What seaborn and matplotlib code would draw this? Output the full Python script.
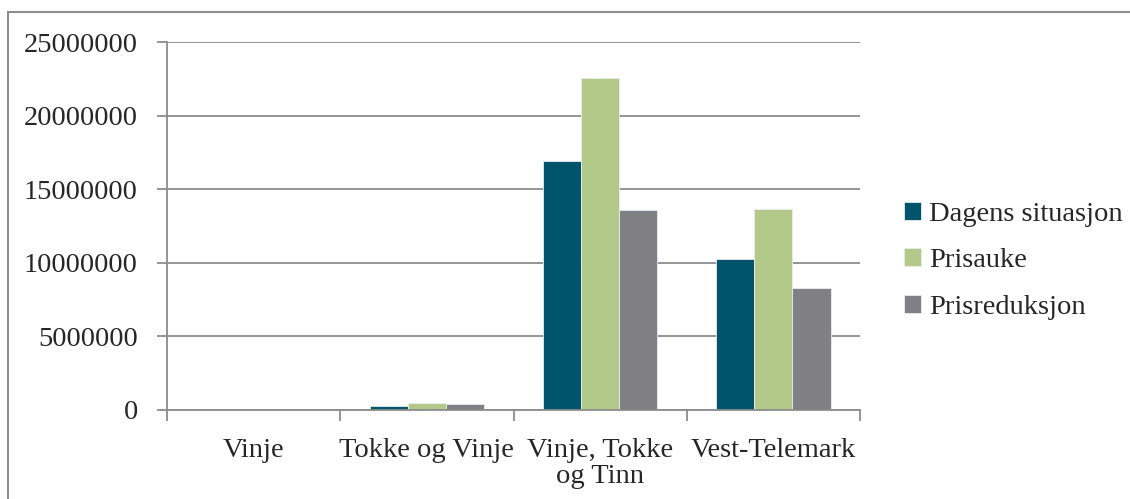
import pandas as pd
import seaborn as sns
import matplotlib.pyplot as plt
from matplotlib.patches import Rectangle

# values
kommuner = ['Vinje', 'Tokke og Vinje', 'Vinje, Tokke\nog Tinn', 'Vest-Telemark']
dagens = [0, 300000, 16900000, 10260000]
prisauke = [0, 450000, 22550000, 13650000]
prisreduksjon = [0, 380000, 13600000, 8290000]
serier = ['Dagens situasjon', 'Prisauke', 'Prisreduksjon']

df = pd.DataFrame({'Kommune': kommuner * 3,
                   'Serie': [s for s in serier for _ in kommuner],
                   'Verdi': dagens + prisauke + prisreduksjon})

sns.set_theme(style='white')
plt.rcParams['font.family'] = ['Liberation Serif', 'DejaVu Serif']
grey = '#8c8c8c'

fig = plt.figure(figsize=(11.3, 4.99), dpi=100)
ax = fig.add_axes([0.1478, 0.1784, 0.6133, 0.7374])
my_pal = {'Dagens situasjon': '#00546b', 'Prisauke': '#b3c98a', 'Prisreduksjon': '#807f84'}
sns.barplot(data=df, x='Kommune', y='Verdi', hue='Serie', palette=my_pal,
            width=0.66, ax=ax, edgecolor='#e8eef0', linewidth=0.6, saturation=1)

ax.set_ylim(0, 25000000)
ax.set_xlim(-0.5, 3.5)
ax.set_yticks(range(0, 25000001, 5000000))
ax.set_yticklabels([str(v) for v in range(0, 25000001, 5000000)], fontsize=20.5)
ax.yaxis.grid(True, color=grey, linewidth=1.3)
ax.set_axisbelow(True)
ax.set_xlabel('')
ax.set_ylabel('')
ax.tick_params(axis='x', which='major', length=0, labelsize=20.5, pad=20)
for lbl in ax.get_xticklabels():
    lbl.set_linespacing(1.05)
ax.set_xticks([-0.5, 0.5, 1.5, 2.5, 3.5], minor=True)
ax.tick_params(axis='x', which='minor', length=8, width=1.3, color=grey, direction='out')
ax.tick_params(axis='y', length=7, width=1.3, color=grey, direction='out', pad=14)
ax.xaxis.set_tick_params(bottom=True, which='minor')
ax.yaxis.set_tick_params(left=True)
for s in ['top', 'right']:
    ax.spines[s].set_visible(False)
for s in ['left', 'bottom']:
    ax.spines[s].set_color(grey)
    ax.spines[s].set_linewidth(1.3)

ax.legend(loc='center left', bbox_to_anchor=(1.026, 0.405), frameon=False, fontsize=20.5,
          handlelength=0.6, handleheight=0.6, handletextpad=0.3, labelspacing=0.75, title=None)

# chart area border (only top and left fall inside the picture)
fig.patches.append(Rectangle((0.007, -0.02), 1.05, 0.996, transform=fig.transFigure,
                             fill=False, edgecolor=grey, linewidth=1.5))

plt.savefig('out.png', dpi=100)
